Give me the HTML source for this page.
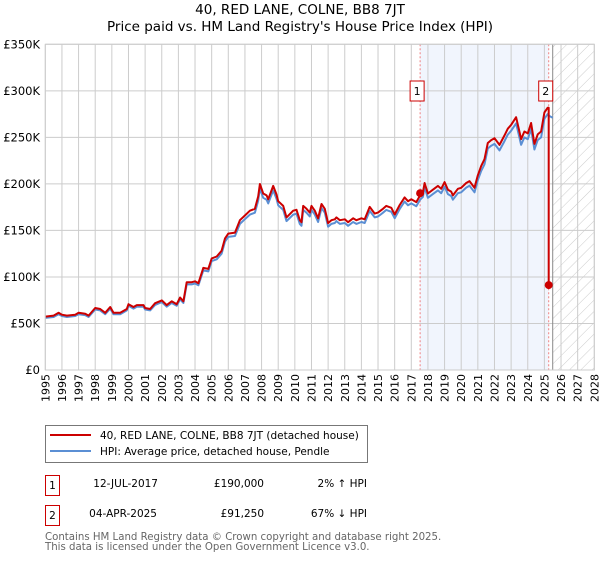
<!DOCTYPE html>
<html><head><meta charset="utf-8">
<style>
body{margin:0;background:#fff;font-family:"DejaVu Sans","Liberation Sans",sans-serif;}
svg text{font-family:"DejaVu Sans","Liberation Sans",sans-serif;}
</style></head>
<body>
<svg id="chart" width="600" height="560" viewBox="0 0 600 560" xmlns="http://www.w3.org/2000/svg">
<defs>
<pattern id="hatch" patternUnits="userSpaceOnUse" width="8" height="8" patternTransform="rotate(45)">
<line x1="0" y1="0" x2="0" y2="8" stroke="#ccc" stroke-width="1"/>
</pattern>
</defs>
<text x="300" y="14" text-anchor="middle" font-size="13.5" fill="#000">40, RED LANE, COLNE, BB8 7JT</text>
<text x="300" y="31" text-anchor="middle" font-size="13.5" fill="#000">Price paid vs. HM Land Registry's House Price Index (HPI)</text>
<g id="plot"></g>
<g id="legend">
<rect x="45.5" y="425.5" width="322" height="37" fill="#fff" stroke="#777"/>
<line x1="50" y1="435" x2="91" y2="435" stroke="#cc0000" stroke-width="2"/>
<text x="100" y="439" font-size="10.5">40, RED LANE, COLNE, BB8 7JT (detached house)</text>
<line x1="50" y1="451" x2="91" y2="451" stroke="#5b8fd4" stroke-width="2"/>
<text x="100" y="455" font-size="10.5">HPI: Average price, detached house, Pendle</text>
</g>
<g font-size="10.5">
<rect x="45.5" y="475.5" width="14" height="20" fill="#fff" stroke="#cc0000"/>
<text x="52.5" y="489" text-anchor="middle">1</text>
<text x="158" y="487" text-anchor="end">12-JUL-2017</text>
<text x="264" y="487" text-anchor="end">£190,000</text>
<text x="367" y="487" text-anchor="end">2% ↑ HPI</text>
</g>
<g font-size="10.5">
<rect x="45.5" y="505.5" width="14" height="20" fill="#fff" stroke="#cc0000"/>
<text x="52.5" y="519" text-anchor="middle">2</text>
<text x="157" y="517" text-anchor="end">04-APR-2025</text>
<text x="264" y="517" text-anchor="end">£91,250</text>
<text x="367" y="517" text-anchor="end">67% ↓ HPI</text>
</g>
<text x="45" y="540" font-size="10.2" fill="#666">Contains HM Land Registry data © Crown copyright and database right 2025.</text>
<text x="45" y="550" font-size="10.2" fill="#666">This data is licensed under the Open Government Licence v3.0.</text>
</svg>
<script>
const years=[1995.0,1995.5,1995.8,1996.0,1996.3,1996.8,1997.0,1997.4,1997.6,1998.0,1998.3,1998.6,1998.9,1999.1,1999.5,1999.9,2000.0,2000.3,2000.5,2000.9,2001.0,2001.3,2001.6,2002.0,2002.3,2002.6,2002.9,2003.1,2003.3,2003.5,2003.8,2004.0,2004.2,2004.5,2004.8,2005.0,2005.3,2005.6,2005.8,2006.0,2006.4,2006.7,2007.0,2007.3,2007.6,2007.8,2007.9,2008.1,2008.3,2008.4,2008.7,2008.9,2009.0,2009.3,2009.5,2009.9,2010.1,2010.3,2010.4,2010.5,2010.7,2010.9,2011.0,2011.2,2011.4,2011.6,2011.8,2012.0,2012.2,2012.4,2012.5,2012.7,2013.0,2013.2,2013.5,2013.7,2014.0,2014.2,2014.5,2014.8,2015.0,2015.3,2015.5,2015.8,2016.0,2016.3,2016.6,2016.8,2017.0,2017.3,2017.53,2017.7,2017.8,2018.0,2018.3,2018.6,2018.8,2019.0,2019.2,2019.4,2019.5,2019.8,2020.0,2020.3,2020.5,2020.8,2021.0,2021.2,2021.4,2021.6,2021.8,2022.0,2022.3,2022.6,2022.8,2023.0,2023.3,2023.5,2023.6,2023.8,2024.0,2024.2,2024.4,2024.6,2024.8,2025.0,2025.2,2025.3,2025.5];
const hpiK=[56,57,60,58,57,58,60,59,57,65,64,60,66,60,60,64,69,66,68,68,65,64,70,73,68,72,69,76,72,92,92,93,91,107,106,117,119,125,138,143,144,157,162,167,169,182,195,185,183,179,193,184,177,172,160,167,168,157,155,172,169,165,172,167,159,174,169,154,157,158,160,157,158,155,159,157,159,158,171,164,165,169,172,170,163,173,181,177,179,176,183,186,196,185,189,193,190,197,189,187,183,190,191,196,198,191,204,214,221,238,241,243,236,246,253,257,265,250,242,250,248,259,237,247,250,270,275,273,271];
const sales=[{t:2017.53,v:190},{t:2025.26,v:91.25}];
const yTicks=[0,50,100,150,200,250,300,350];
const xTicks=[1995,1996,1997,1998,1999,2000,2001,2002,2003,2004,2005,2006,2007,2008,2009,2010,2011,2012,2013,2014,2015,2016,2017,2018,2019,2020,2021,2022,2023,2024,2025,2026,2027,2028];
const X0=45.3,X1=594.3,Y0=370,Y1=44.3;
const xs=t=>X0+(t-1995)/33*(X1-X0);
const ys=v=>Y0-v/350*(Y0-Y1);
const NS='http://www.w3.org/2000/svg';
const plot=document.getElementById('plot');
function mk(tag,attrs,parent){const e=document.createElementNS(NS,tag);for(const k in attrs)e.setAttribute(k,attrs[k]);(parent||plot).appendChild(e);return e;}
let band=mk('rect',{x:xs(sales[0].t),y:Y1,width:xs(sales[1].t)-xs(sales[0].t),height:Y0-Y1,fill:'#eef3fc',opacity:0.8});


const dataEnd=2025.5;
let hat=mk('rect',{x:xs(dataEnd),y:Y1,width:X1-xs(dataEnd),height:Y0-Y1,fill:'url(#hatch)'});


xTicks.forEach(t=>{
 let l=mk('line',{x1:xs(t),x2:xs(t),y1:Y1,y2:Y0,stroke:'#ccc','stroke-width':1});
 
 
 let x=xs(t)+4,y=374;
 let tx=mk('text',{x:x,y:y,'text-anchor':'end','font-size':11,fill:'#000',transform:'rotate(-90 '+x+' '+y+')'});
 tx.textContent=t;
 
 
});
yTicks.forEach(v=>{
 let l=mk('line',{x1:X0,x2:X1,y1:ys(v),y2:ys(v),stroke:'#ccc','stroke-width':1});
 
 
 let tx=mk('text',{x:40,y:ys(v)+4,'text-anchor':'end','font-size':11.5,fill:'#000'});
 tx.textContent=v===0?'£0':'£'+v+'K';
 
 
});
let dl=mk('line',{x1:xs(dataEnd),x2:xs(dataEnd),y1:Y1,y2:Y0,stroke:'#888','stroke-width':1});


sales.forEach((s,i)=>{
 let l=mk('line',{x1:xs(s.t),x2:xs(s.t),y1:Y1,y2:Y0,stroke:'#f08080','stroke-width':1,'stroke-dasharray':'2,2'});
 
 
});
let hp=years.map((t,i)=>(i?'L':'M')+xs(t).toFixed(1)+','+ys(hpiK[i]).toFixed(1)).join('');
let hpl=mk('path',{d:hp,fill:'none',stroke:'#5b8fd4','stroke-width':2,'stroke-linejoin':'round'});


const ratio=1.025;
let rp='';let first=true;
years.forEach((t,i)=>{if(t<=sales[1].t){rp+=(first?'M':'L')+xs(t).toFixed(1)+','+ys(hpiK[i]*ratio).toFixed(1);first=false;}});
rp+='L'+xs(sales[1].t).toFixed(1)+','+ys(hpiK[years.length-3]*ratio).toFixed(1)+'L'+xs(sales[1].t).toFixed(1)+','+ys(sales[1].v).toFixed(1);
let rpl=mk('path',{d:rp,fill:'none',stroke:'#cc0000','stroke-width':2,'stroke-linejoin':'round'});


sales.forEach((s,i)=>{
 let c=mk('circle',{cx:xs(s.t),cy:ys(s.v),r:4,fill:'#cc0000'});
 
 
 let bx=xs(s.t)-10;
 let r=mk('rect',{x:bx,y:81,width:14,height:20,fill:'#fff',stroke:'#cc0000'});
 
 
 let tx=mk('text',{x:bx+7,y:95,'text-anchor':'middle','font-size':11});
 tx.textContent=String(i+1);
 
 
});
let fr=mk('rect',{x:X0,y:Y1,width:X1-X0,height:Y0-Y1,fill:'none',stroke:'#ccc'});


</script>
</body></html>
